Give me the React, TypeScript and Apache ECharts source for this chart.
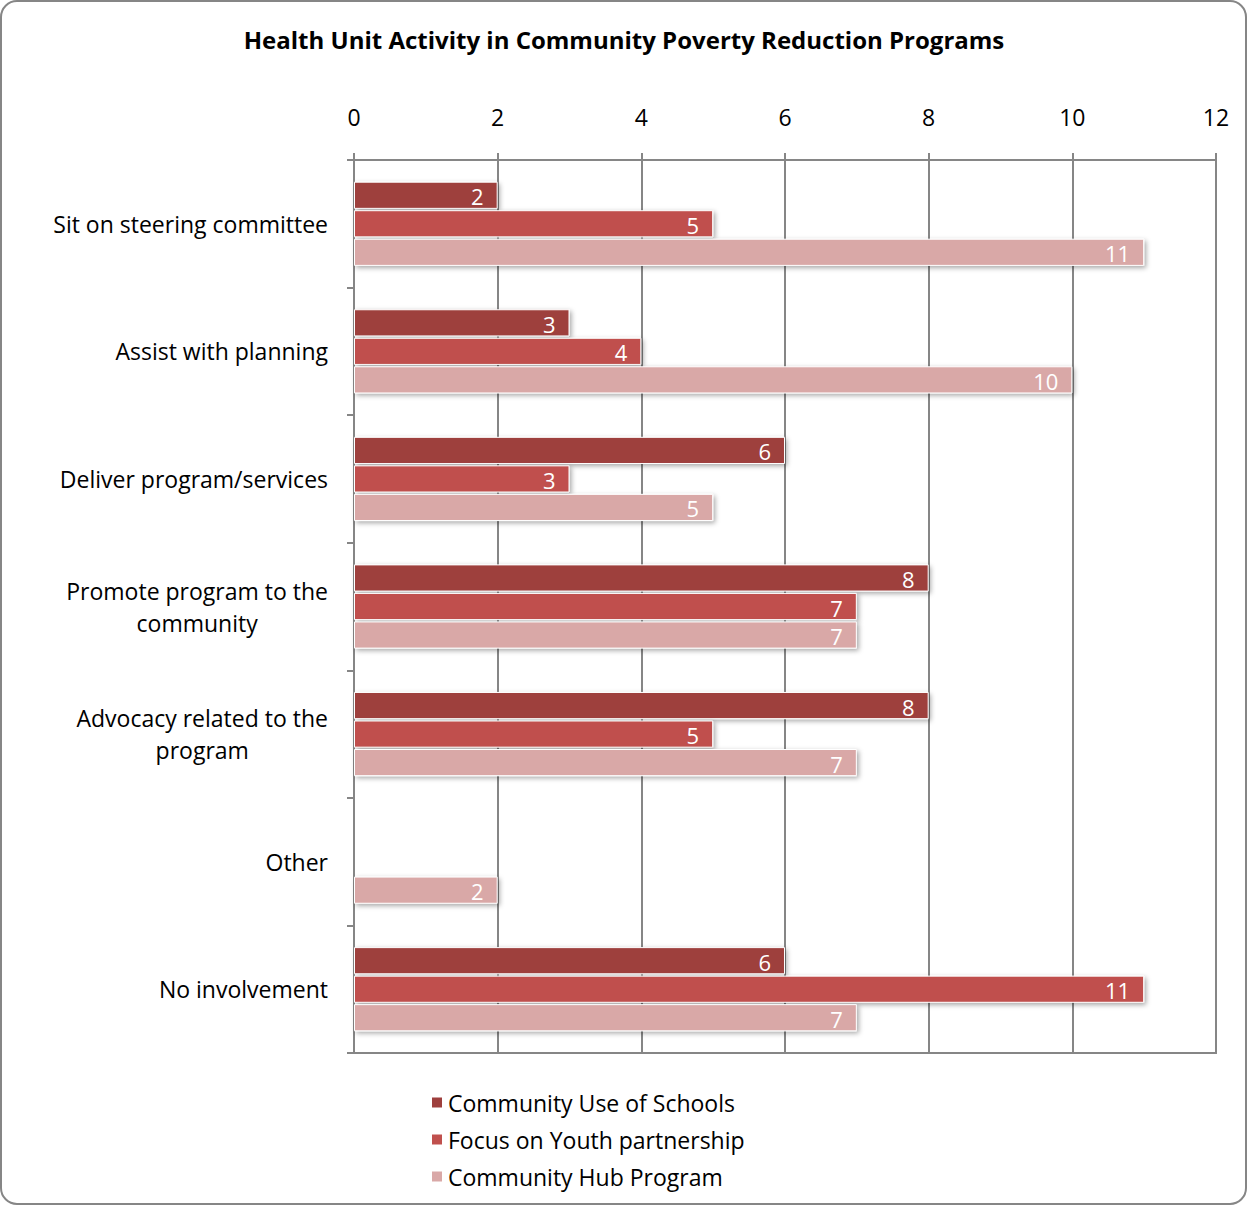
import React, { useEffect, useRef } from "react";
import * as echarts from "echarts";

const categories = [
  "Sit on steering committee",
  "Assist with planning",
  "Deliver program/services",
  "Promote program to the\ncommunity",
  "Advocacy related to the\nprogram",
  "Other",
  "No involvement",
];
const seriesNames = ["Community Use of Schools", "Focus on Youth partnership", "Community Hub Program"];
const useOfSchools = [2, 3, 6, 8, 8, null, 6];
const focusOnYouth = [5, 4, 3, 7, 5, null, 11];
const hubProgram = [11, 10, 5, 7, 7, 2, 7];
const colors = ["#9E3F3D", "#C0504D", "#D9A8A7"];

const FONT = "Open Sans";
const FS = 23;

export default function App() {
  const ref = useRef<HTMLDivElement>(null);
  useEffect(() => {
    document.body.style.margin = "0";
    const chart = echarts.init(ref.current!, null, { renderer: "svg" });
    const values = [useOfSchools, focusOnYouth, hubProgram];
    chart.setOption({
      animation: false,
      textStyle: { fontFamily: FONT },
      title: {
        text: "Health Unit Activity in Community Poverty Reduction Programs",
        left: "center",
        top: 22,
        textStyle: { fontFamily: FONT, fontSize: 24, fontWeight: "bold", color: "#000" },
      },
      graphic: [
        {
          type: "rect",
          shape: { x: 1, y: 1, width: 1245, height: 1203, r: 16 },
          style: { fill: "none", stroke: "#868686", lineWidth: 2 },
          silent: true,
          z: -1,
        },
      ],
      legend: {
        orient: "vertical",
        left: 425,
        top: 1085,
        itemWidth: 12,
        itemHeight: 12,
        itemGap: 12,
        icon: "rect",
        textStyle: { fontFamily: FONT, fontSize: FS, color: "#000", lineHeight: 25 },
        data: seriesNames,
      },
      grid: {
        left: 354,
        right: 32,
        top: 160,
        bottom: 154,
        show: true,
        borderColor: "#868686",
        borderWidth: 2,
        containLabel: false,
      },
      xAxis: {
        type: "value",
        position: "top",
        min: 0,
        max: 12,
        interval: 2,
        axisLine: { show: true, lineStyle: { color: "#868686", width: 2 } },
        axisTick: { show: true, length: 7, lineStyle: { color: "#868686", width: 2 } },
        splitLine: { show: true, lineStyle: { color: "#868686", width: 2 } },
        axisLabel: { fontFamily: FONT, fontSize: FS, color: "#000", margin: 32 },
      },
      yAxis: {
        type: "category",
        inverse: true,
        data: categories,
        axisLine: { show: true, lineStyle: { color: "#868686", width: 2 } },
        axisTick: { show: true, length: 7, lineStyle: { color: "#868686", width: 2 } },
        axisLabel: {
          margin: 26,
          fontFamily: FONT,
          fontSize: FS,
          color: "#000",
          formatter: (v: string) => v.split("\n").map((l) => `{c|${l}}`).join("\n"),
          rich: { c: { align: "center", fontFamily: FONT, fontSize: FS, color: "#000", lineHeight: 32 } },
        },
      },
      series: seriesNames.map((name, i) => ({
        name,
        type: "bar",
        data: values[i],
        barCategoryGap: "34%",
        barGap: "5%",
        itemStyle: {
          color: colors[i],
          borderColor: "#fff",
          borderWidth: 1,
          shadowBlur: 5,
          shadowOffsetX: 2,
          shadowOffsetY: 2,
          shadowColor: "rgba(0,0,0,0.35)",
        },
        label: {
          show: true,
          position: "insideRight",
          distance: 14,
          offset: [0, 1],
          color: "#fff",
          fontFamily: FONT,
          fontSize: 22,
          lineHeight: 22,
        },
      })),
    });
    return () => chart.dispose();
  }, []);
  return <div ref={ref} style={{ width: 1248, height: 1207 }} />;
}
